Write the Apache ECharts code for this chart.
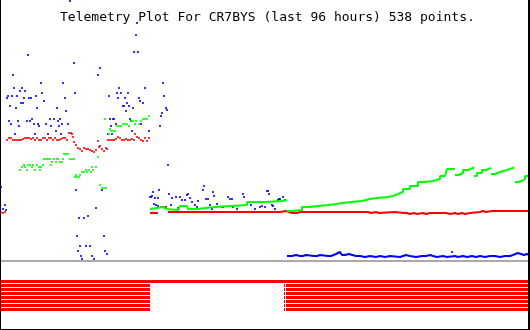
<!DOCTYPE html>
<html><head><meta charset="utf-8">
<script src="https://cdn.jsdelivr.net/npm/echarts@6/dist/echarts.min.js"></script>
<style>html,body{margin:0;padding:0;background:#fff;}#c{width:530px;height:330px;}</style>
</head><body><div id="c"></div>
<script>
const titleText = 'Telemetry Plot For CR7BYS (last 96 hours) 538 points.';

// time axis in sample slots (0..530), value = telemetry level (0 at baseline)
const blueLeft = [[1,74],[3,52],[5,56],[6,51],[7,163],[8,165],[9,140],[10,155],[11,137],[12,165],[13,186],[14,173],[15,127],[16,153],[17,165],[18,140],[19,135],[20,170],[21,158],[22,173],[23,158],[24,163],[25,170],[27,140],[28,206],[29,163],[30,140],[31,163],[32,142],[34,137],[35,127],[36,165],[37,153],[38,137],[39,135],[41,178],[42,168],[44,160],[46,137],[48,127],[50,142],[51,135],[54,142],[56,130],[57,153],[58,140],[59,135],[60,142],[61,127],[62,137],[63,178],[65,163],[66,150],[68,137],[70,260],[74,198],[75,168],[76,71],[77,25],[78,10],[79,43],[80,15],[81,5],[82,2],[84,43],[86,15],[88,45],[90,15],[92,5],[94,2],[96,53],[98,186],[100,193],[102,71],[104,25],[105,10],[107,7],[108,127],[109,165],[110,142],[111,135],[112,127],[113,142],[114,142],[116,137],[117,168],[118,163],[119,173],[121,168],[123,155],[124,155],[125,163],[126,150],[127,158],[128,168],[129,155],[130,142],[131,140],[132,130],[133,153],[134,209],[136,226],[137,238],[138,209],[139,163],[140,160],[141,137],[143,158],[145,173],[149,130],[160,135],[161,145],[162,148],[163,178],[164,165],[166,153],[167,151],[168,96]];
const blueMid = [[150,64],[151,64],[152,65],[153,69],[154,57],[155,63],[156,56],[158,63],[158,55],[159,71],[169,67],[171,56],[172,63],[176,64],[178,53],[180,64],[182,61],[185,61],[187,66],[188,67],[190,63],[192,59],[195,56],[197,54],[198,60],[203,71],[204,75],[206,62],[208,62],[210,56],[212,52],[213,69],[214,65],[217,57],[222,54],[223,54],[228,64],[230,62],[232,62],[233,54],[237,52],[243,67],[244,64],[251,56],[255,52],[260,54],[262,55],[265,54],[267,70],[268,70],[269,67],[272,56],[273,55],[275,52],[278,61],[279,62],[280,62],[283,64],[285,61],[452,9]];
const blueLow = [[287,5],[292,5],[294,6],[296,5],[300,5],[303,6],[306,5],[314,5],[317,6],[320,5],[328,5],[331,6],[333,7],[336,8],[338,9],[340,8],[342,6],[345,5],[347,7],[349,6],[351,5],[356,5],[360,4],[365,5],[370,4],[376,5],[380,4],[385,5],[390,4],[400,5],[403,6],[406,5],[410,4],[416,5],[422,5],[426,6],[430,5],[433,4],[437,5],[443,4],[447,5],[455,4],[458,5],[463,4],[467,5],[472,4],[476,5],[480,4],[485,5],[490,5],[495,4],[500,5],[505,5],[510,6],[513,7],[515,8],[518,7],[520,6],[524,7],[527,6],[529,6]];

const redLeft = [[1,49],[3,48],[5,49],[7,121],[9,123],[11,123],[13,121],[15,121],[17,121],[19,121],[21,121],[23,122],[25,123],[27,123],[29,123],[31,122],[33,123],[35,121],[37,123],[39,121],[41,121],[43,123],[45,123],[47,121],[49,123],[51,123],[53,121],[55,123],[57,121],[59,121],[61,122],[63,123],[65,123],[67,121],[69,128],[71,128],[72,127],[73,124],[74,119],[76,116],[78,113],[80,112],[82,110],[84,113],[86,112],[88,112],[90,111],[92,110],[94,109],[96,111],[98,120],[99,114],[100,115],[102,112],[104,110],[106,113],[107,112],[108,121],[110,121],[112,121],[114,121],[116,122],[118,124],[120,123],[122,121],[124,121],[126,122],[128,121],[130,121],[132,122],[134,121],[135,127],[137,124],[139,123],[141,121],[143,120],[145,123],[147,120],[149,123]];
const redRight = [[150,48],[152,48],[154,47],[156,48],[158,48],[158,'-'],[160,54],[167,54],[167,'-'],[168,49],[175,48],[177,49],[190,48],[192,49],[226,48],[228,49],[250,48],[252,49],[280,50],[286,49],[289,48],[292,49],[294,48],[297,49],[300,48],[302,49],[318,48],[320,49],[332,48],[334,49],[350,48],[352,49],[362,48],[364,49],[368,48],[371,49],[376,48],[379,49],[395,48],[404,48],[407,47],[410,48],[414,47],[417,48],[423,47],[426,48],[430,47],[432,48],[446,47],[450,48],[455,47],[458,48],[462,47],[465,48],[470,49],[480,50],[483,49],[486,50],[492,49],[494,50],[500,49],[502,50],[529,50]];

const greenLeft = [[20,91],[22,94],[24,96],[25,94],[27,91],[28,96],[30,96],[32,94],[33,96],[35,91],[37,96],[39,94],[40,91],[41,94],[43,96],[44,102],[46,102],[48,102],[50,102],[51,96],[52,99],[54,102],[56,99],[57,102],[58,102],[60,99],[62,99],[63,102],[64,107],[66,107],[68,107],[70,102],[72,102],[74,102],[75,84],[76,86],[77,84],[79,84],[80,86],[82,89],[84,89],[86,91],[87,89],[89,91],[91,89],[92,94],[93,91],[96,94],[98,104],[100,76],[102,73],[104,73],[106,73],[105,142],[109,127],[110,132],[111,130],[113,130],[115,130],[117,135],[119,135],[121,135],[123,137],[125,137],[127,137],[129,135],[131,140],[133,140],[135,137],[136,140],[139,137],[141,140],[143,142],[145,142],[147,142],[149,145]];
const greenRight = [[150,52],[152,54],[163,52],[167,51],[178,51],[180,55],[187,55],[188,52],[193,52],[197,54],[215,56],[247,59],[265,60],[282,61],[287,61],[287,'-'],[287,50],[293,51],[302,54],[310,55],[318,56],[328,57],[337,58],[342,59],[352,60],[362,61],[363,62],[370,63],[377,64],[388,65],[393,67],[398,69],[403,72],[410,75],[418,79],[425,80],[433,82],[440,85],[445,87],[447,92],[455,92],[455,'-'],[455,86],[459,88],[463,91],[468,93],[473,94],[474,94],[474,'-'],[474,85],[477,88],[482,91],[486,93],[491,93],[491,'-'],[491,87],[495,89],[500,91],[507,93],[513,94],[514,94],[514,'-'],[515,79],[518,80],[522,82],[525,85],[528,87],[529,87]];

// digital bit channels: [on from, on until, bit number]
const bits = [[1,529,0],[1,150,1],[284,285,1],[286,529,1],[1,150,2],[284,285,2],[286,529,2],[1,150,3],[284,285,3],[286,529,3],[1,150,4],[284,285,4],[286,529,4],[1,150,5],[284,285,5],[286,529,5],[1,150,6],[284,285,6],[286,529,6],[1,150,7],[284,285,7],[286,529,7]];

const BLUE = '#0000ff', RED = '#ff0000', GREEN = '#00ff00';
const chart = echarts.init(document.getElementById('c'), null, {renderer: 'canvas'});
const dot = (name, data, color) => ({
  type: 'scatter', name, data, xAxisIndex: 0, yAxisIndex: 0,
  symbol: 'rect', symbolSize: [2, 2], itemStyle: {color}, silent: true
});
const step = (name, data, color) => ({
  type: 'line', name, data, xAxisIndex: 0, yAxisIndex: 0, step: 'end',
  symbol: 'none', connectNulls: false, lineStyle: {width: 2, color}, silent: true
});
chart.setOption({
  animation: false,
  backgroundColor: '#fff',
  title: {text: titleText, left: 60, top: 11, padding: 0,
    textStyle: {fontFamily: 'DejaVu Sans Mono', fontSize: 13, fontWeight: 'normal', color: '#000'}},
  grid: [
    {left: 0, right: 0, top: 0, height: 261},
    {left: 0, right: 0, top: 281.5, height: 28}
  ],
  xAxis: [
    {type: 'value', gridIndex: 0, min: 0, max: 530, axisLine: {show: true, onZero: false, lineStyle: {color: '#aaaaaa', width: 2}},
      axisTick: {show: false}, axisLabel: {show: false}, splitLine: {show: false}},
    {type: 'value', gridIndex: 1, min: 0, max: 530, show: false}
  ],
  yAxis: [
    {type: 'value', gridIndex: 0, min: 0, max: 261, show: false},
    {type: 'value', gridIndex: 1, min: 0, max: 7, inverse: true, show: false}
  ],
  series: [
    dot('blue', blueLeft.concat(blueMid), BLUE),
    step('blueLow', blueLow, BLUE),
    dot('redLeft', redLeft, RED),
    step('redRight', redRight, RED),
    dot('greenLeft', greenLeft, GREEN),
    step('greenRight', greenRight, GREEN),
    {
      type: 'custom', name: 'bits', xAxisIndex: 1, yAxisIndex: 1, data: bits, silent: true,
      encode: {x: [0, 1], y: 2},
      renderItem: function (params, api) {
        const a = api.coord([api.value(0), api.value(2)]);
        const b = api.coord([api.value(1), api.value(2)]);
        return {type: 'rect', shape: {x: a[0], y: a[1] - 1.5, width: b[0] - a[0], height: 3}, style: {fill: RED}};
      }
    }
  ],
  graphic: [
    {type: 'rect', silent: true, z: 100, shape: {x: 0, y: 0, width: 1, height: 330}, style: {fill: '#000'}},
    {type: 'rect', silent: true, z: 100, shape: {x: 0, y: 329, width: 530, height: 1}, style: {fill: '#000'}},
    {type: 'rect', silent: true, z: 100, shape: {x: 528, y: 0, width: 2, height: 330}, style: {fill: '#000'}}
  ]
});
</script></body></html>
